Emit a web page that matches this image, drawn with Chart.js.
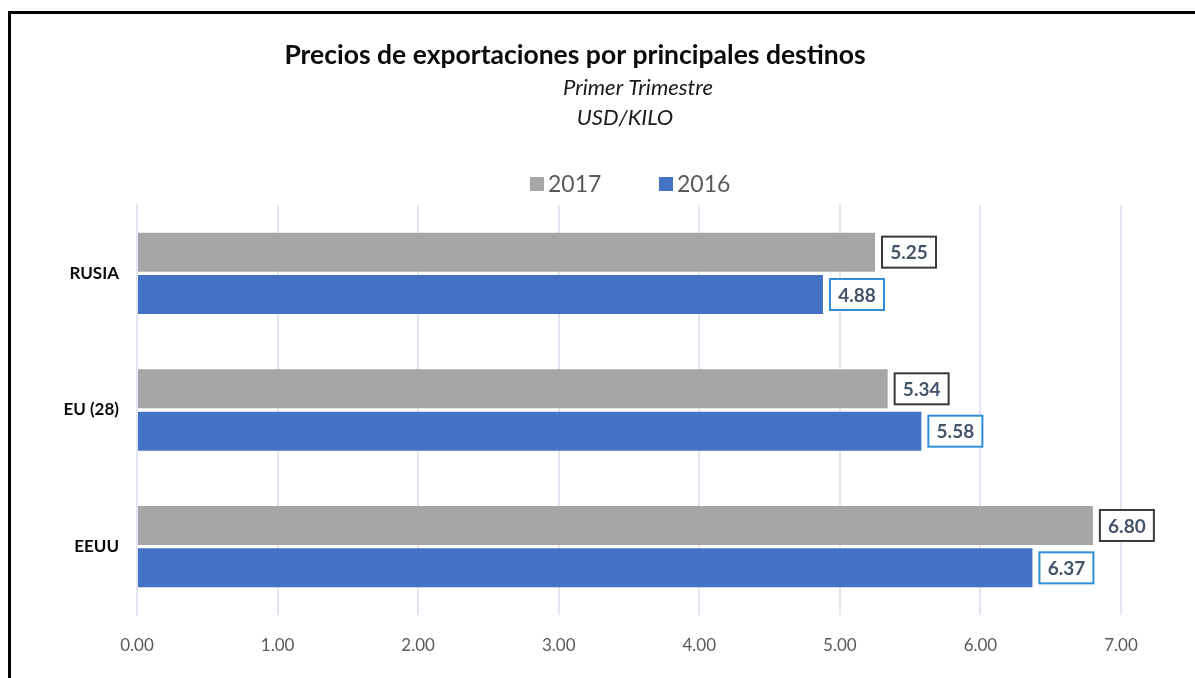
<!DOCTYPE html>
<html>
<head>
<meta charset="utf-8">
<script src="https://cdn.jsdelivr.net/npm/chart.js@4.4.0/dist/chart.umd.min.js"></script>
<style>
  html, body { margin: 0; padding: 0; background: #fff; }
  #wrap { position: relative; width: 1195px; height: 678px; overflow: hidden; }
  #frame { position: absolute; left: 8px; top: 11px; width: 1300px; height: 800px;
           border-top: 3px solid #000; border-left: 3px solid #000; }
  canvas { position: absolute; left: 0; top: 0; }
</style>
</head>
<body>
<div id="wrap">
  <div id="frame"></div>
  <canvas id="chart" width="1195" height="678"></canvas>
</div>
<script>
// datos
const destinos = ["RUSIA", "EU (28)", "EEUU"];
const precios2017 = [5.25, 5.34, 6.80];
const precios2016 = [4.88, 5.58, 6.37];
const xTicks = [0, 1, 2, 3, 4, 5, 6, 7];

const FONT = "Lato, 'Open Sans', sans-serif";

// titulo, subtitulos y leyenda dibujados a mano
const headerPlugin = {
  id: 'header',
  afterDraw(chart) {
    const c = chart.ctx;
    c.save();
    c.textBaseline = 'middle';
    c.textAlign = 'center';
    c.fillStyle = '#0a0a0a';
    c.font = "bold 26.5px " + FONT;
    c.fillText("Precios de exportaciones por principales destinos", 575, 55);
    c.font = "italic 22px " + FONT;
    c.fillStyle = '#1a1a1a';
    c.fillText("Primer Trimestre", 638, 88);
    c.fillText("USD/KILO", 625, 118);

    // leyenda
    const items = [
      { label: chart.data.datasets[0].label, color: chart.data.datasets[0].backgroundColor, x: 530 },
      { label: chart.data.datasets[1].label, color: chart.data.datasets[1].backgroundColor, x: 659 }
    ];
    c.textAlign = 'left';
    c.font = "23px " + FONT;
    items.forEach(it => {
      c.fillStyle = it.color;
      c.fillRect(it.x, 177, 14, 14);
      c.fillStyle = '#595959';
      c.fillText(it.label, it.x + 18, 185);
    });
    c.restore();
  }
};

// etiquetas de valor con recuadro
const boxLabels = {
  id: 'boxLabels',
  afterDatasetsDraw(chart) {
    const c = chart.ctx;
    const borders = ['#3a3a3a', '#2f8fd6'];
    c.save();
    c.font = "bold 19px " + FONT;
    c.textBaseline = 'middle';
    c.textAlign = 'center';
    chart.data.datasets.forEach((ds, di) => {
      chart.getDatasetMeta(di).data.forEach((bar, i) => {
        const txt = ds.data[i].toFixed(2);
        const w = 54, h = 31;
        const x = bar.x + 7, y = bar.y - h / 2;
        c.fillStyle = '#fff';
        c.fillRect(x, y, w, h);
        c.lineWidth = 2;
        c.strokeStyle = borders[di];
        c.strokeRect(x, y, w, h);
        c.fillStyle = '#44546A';
        c.fillText(txt, x + w / 2, bar.y + 1);
      });
    });
    c.restore();
  }
};

new Chart(document.getElementById('chart'), {
  type: 'bar',
  data: {
    labels: destinos,
    datasets: [
      { label: "2017", data: precios2017, backgroundColor: '#a6a6a6',
        categoryPercentage: 0.62, barPercentage: 0.92 },
      { label: "2016", data: precios2016, backgroundColor: '#4472c4',
        categoryPercentage: 0.62, barPercentage: 0.92 }
    ]
  },
  options: {
    indexAxis: 'y',
    responsive: false,
    animation: false,
    layout: { padding: { left: 10, right: 74, top: 205, bottom: 0 } },
    plugins: {
      legend: { display: false },
      title: { display: false },
      tooltip: { enabled: false }
    },
    scales: {
      x: {
        min: 0, max: 7,
        afterBuildTicks(s) { s.ticks = xTicks.map(v => ({ value: v })); },
        afterFit(s) { s.height = 63; },
        grid: { color: '#e1e6f0', lineWidth: 2, drawTicks: false },
        border: { display: false },
        ticks: {
          padding: 20,
          color: '#595959',
          font: { family: FONT, size: 17 },
          callback: v => Number(v).toFixed(2)
        }
      },
      y: {
        afterFit(s) { s.width = 127; },
        grid: { display: false, drawTicks: false },
        border: { display: true, color: '#e1e6f0', width: 2 },
        ticks: {
          padding: 18,
          color: '#0a0a0a',
          font: { family: FONT, size: 17, weight: 'bold' }
        }
      }
    }
  },
  plugins: [headerPlugin, boxLabels]
});
</script>
</body>
</html>
